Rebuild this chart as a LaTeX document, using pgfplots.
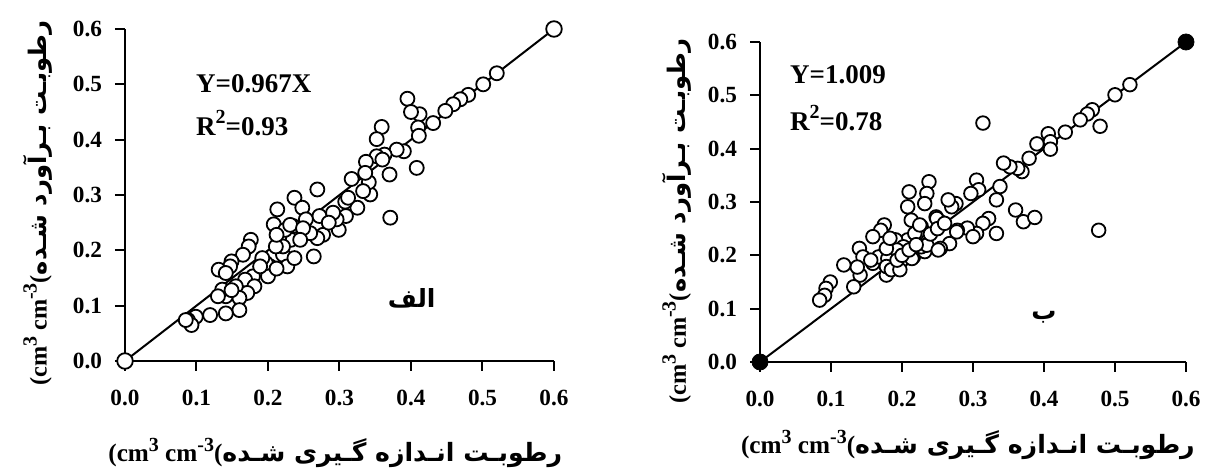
\documentclass[border=0pt]{standalone}
\usepackage{fontspec}
\setmainfont{Liberation Serif}
\newfontfamily\arabicfont[Script=Arabic]{DejaVu Sans}
\TeXXeTstate=1
\usepackage{pgfplots}
\pgfplotsset{compat=1.18}
\usepackage{pgfplotstable}

\pgfplotstableread{
x y
0.52 0.52
0.501 0.5
0.48 0.481
0.469 0.473
0.459 0.464
0.448 0.452
0.431 0.430
0.412 0.446
0.41 0.422
0.411 0.407
0.408 0.349
0.395 0.474
0.4 0.45
0.39 0.379
0.38 0.382
0.359 0.423
0.352 0.401
0.363 0.373
0.352 0.370
0.37 0.337
0.371 0.259
0.337 0.360
0.343 0.301
0.341 0.323
0.333 0.307
0.317 0.329
0.325 0.277
0.308 0.288
0.309 0.262
0.299 0.237
0.296 0.256
0.269 0.31
0.272 0.262
0.237 0.295
0.248 0.277
0.277 0.228
0.269 0.222
0.264 0.189
0.251 0.237
0.235 0.244
0.232 0.219
0.213 0.274
0.208 0.247
0.216 0.225
0.221 0.192
0.227 0.171
0.237 0.186
0.203 0.171
0.200 0.153
0.197 0.177
0.192 0.186
0.176 0.219
0.173 0.207
0.165 0.192
0.149 0.180
0.147 0.171
0.131 0.165
0.141 0.159
0.179 0.153
0.168 0.147
0.181 0.135
0.171 0.123
0.155 0.135
0.160 0.114
0.141 0.117
0.136 0.129
0.160 0.092
0.141 0.086
0.119 0.083
0.099 0.080
0.088 0.074
0.093 0.065
0.085 0.074
0.312 0.295
0.291 0.268
0.285 0.25
0.221 0.207
0.211 0.207
0.224 0.237
0.253 0.256
0.259 0.231
0.336 0.34
0.36 0.364
0.189 0.171
0.149 0.128
0.212 0.167
0.212 0.228
0.231 0.246
0.249 0.240
0.245 0.219
0.130 0.117
}\dataA

\pgfplotstableread{
x y
0.521 0.520
0.5 0.501
0.468 0.473
0.461 0.465
0.451 0.454
0.430 0.431
0.479 0.442
0.477 0.247
0.406 0.428
0.409 0.413
0.409 0.399
0.39 0.409
0.379 0.382
0.369 0.357
0.363 0.363
0.352 0.366
0.343 0.373
0.338 0.329
0.333 0.304
0.314 0.448
0.305 0.341
0.308 0.323
0.297 0.316
0.36 0.285
0.371 0.263
0.387 0.271
0.333 0.241
0.322 0.269
0.314 0.260
0.305 0.241
0.292 0.251
0.276 0.297
0.27 0.291
0.267 0.222
0.278 0.247
0.254 0.263
0.248 0.272
0.254 0.213
0.238 0.338
0.235 0.316
0.232 0.297
0.210 0.319
0.208 0.291
0.213 0.266
0.227 0.254
0.221 0.241
0.208 0.229
0.216 0.197
0.232 0.207
0.227 0.216
0.194 0.210
0.191 0.229
0.2 0.191
0.189 0.182
0.180 0.175
0.178 0.163
0.175 0.257
0.170 0.247
0.159 0.235
0.159 0.185
0.167 0.197
0.140 0.213
0.145 0.197
0.141 0.163
0.137 0.178
0.118 0.182
0.132 0.141
0.099 0.150
0.093 0.138
0.091 0.125
0.084 0.116
0.189 0.204
0.202 0.216
0.180 0.194
0.156 0.191
0.178 0.179
0.185 0.173
0.193 0.210
0.218 0.241
0.225 0.257
0.249 0.269
0.235 0.219
0.214 0.194
0.251 0.210
0.277 0.244
0.265 0.304
0.300 0.235
0.197 0.173
0.178 0.213
0.193 0.191
0.183 0.232
0.200 0.200
0.210 0.210
0.220 0.220
0.240 0.240
0.250 0.250
0.260 0.260
}\dataB

\pgfplotsset{
  myaxis/.style={
    scale only axis,
    xmin=0, xmax=0.6, ymin=0, ymax=0.6,
    axis lines=left,
    axis line style={-, line width=1pt},
    every tick/.style={line width=1pt, black},
    major tick length=5pt,
    tick align=outside,
    xtick={0,0.1,0.2,0.3,0.4,0.5,0.6},
    ytick={0,0.1,0.2,0.3,0.4,0.5,0.6},
    /pgf/number format/.cd, fixed, fixed zerofill, precision=1, assume math mode=true,
    /pgfplots/.cd,
    tick label style={font=\fontsize{11.6}{13}\selectfont\bfseries},
    xticklabel style={yshift=-6pt},
    yticklabel style={xshift=-3pt},
    clip=false,
    xlabel style={font=\fontsize{12.6}{15}\selectfont\bfseries},
    ylabel style={font=\fontsize{12.1}{15}\selectfont\bfseries},
  },
  scat/.style={only marks, mark=*, mark size=3.5pt,
    mark options={fill=white, draw=black, line width=0.9pt}},
}
\tikzset{eq/.style={anchor=west, inner sep=0pt, font=\fontsize{13.5}{15}\selectfont\bfseries}}

\newcommand{\up}[1]{\raisebox{0.42em}{\fontsize{10}{10}\selectfont #1}}
\newcommand{\unitlab}{(cm\up{3} cm\up{-3}(}

\begin{document}
\begin{tikzpicture}
\useasboundingbox (0,0) rectangle (603pt,235pt);
% Left panel
\begin{axis}[myaxis,
  at={(62.5pt,54.5pt)}, anchor=south west,
  width=214.5pt, height=166pt,
  xlabel={\unitlab{\arabicfont\bfseries\beginR رطوبـت انـدازه گـیری شـده\endR}},
  ylabel={\unitlab{\arabicfont\bfseries\beginR رطوبـت بـرآورد شـده\endR}},
  xlabel style={at={([yshift=-46pt]axis description cs:0.49,0)}, anchor=center},
  ylabel style={at={([xshift=-43.5pt]axis description cs:0,0.475)}, anchor=center},
]
\addplot[scat] table[x=x,y=y] {\dataA};
\addplot[black, line width=1pt] coordinates {(0,0) (0.6,0.6)};
\addplot[only marks, mark=*, mark size=3.9pt, mark options={fill=white, draw=black, line width=0.9pt}] coordinates {(0,0) (0.6,0.6)};
\node[eq] at (axis cs:0.099,0.502) {Y=0.967X};
\node[eq] at (axis cs:0.099,0.43) {R\up{2}=0.93};
\node[font=\fontsize{12.5}{14}\selectfont\arabicfont\bfseries] at (axis cs:0.401,0.114) {\beginR الف\endR};
\end{axis}
% Right panel
\begin{axis}[myaxis,
  at={(380pt,54pt)}, anchor=south west,
  width=213pt, height=160pt,
  xlabel={\unitlab{\arabicfont\bfseries\beginR رطوبـت انـدازه گـیری شـده\endR}},
  ylabel={\unitlab{\arabicfont\bfseries\beginR رطوبـت بـرآورد شـده\endR}},
  xlabel style={at={([yshift=-41.5pt]axis description cs:0.488,0)}, anchor=center},
  ylabel style={at={([xshift=-41.5pt]axis description cs:0,0.44)}, anchor=center},
]
\addplot[scat, mark size=3.4pt] table[x=x,y=y] {\dataB};
\addplot[black, line width=1pt] coordinates {(0,0) (0.6,0.6)};
\addplot[only marks, mark=*, mark size=4pt, mark options={fill=black, draw=black}] coordinates {(0,0) (0.6,0.6)};
\node[eq] at (axis cs:0.042,0.538) {Y=1.009};
\node[eq] at (axis cs:0.042,0.4575) {R\up{2}=0.78};
\node[font=\fontsize{12.5}{14}\selectfont\arabicfont\bfseries] at (axis cs:0.4,0.084) {\beginR ب\endR};
\end{axis}
\end{tikzpicture}
\end{document}
